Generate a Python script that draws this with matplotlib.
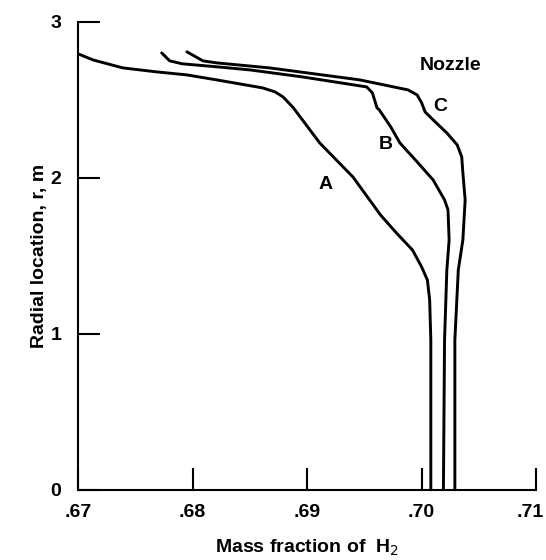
import numpy as np
import matplotlib
matplotlib.use('Agg')
from matplotlib import pyplot as plt
from matplotlib.transforms import ScaledTranslation

# curve A / B / C : mass fraction of H2 vs radial location
a_x = [0.6700, 0.6713, 0.6739, 0.6769, 0.6795, 0.6821, 0.6861, 0.6872, 0.6879,
       0.6888, 0.6911, 0.6940, 0.6964, 0.6978, 0.6992, 0.7000, 0.7005, 0.7007,
       0.7008, 0.7008]
a_r = [2.795, 2.756, 2.705, 2.679, 2.660, 2.628, 2.577, 2.551, 2.519,
       2.449, 2.224, 2.006, 1.763, 1.647, 1.538, 1.429, 1.346, 1.218,
       0.962, 0.0]

b_x = [0.6773, 0.6780, 0.6791, 0.6821, 0.6850, 0.6896, 0.6952, 0.6957, 0.6961,
       0.6963, 0.6973, 0.6981, 0.6996, 0.7010, 0.7020, 0.7023, 0.7024, 0.7022,
       0.7020, 0.7019]
b_r = [2.801, 2.750, 2.731, 2.712, 2.692, 2.647, 2.583, 2.545, 2.449,
       2.436, 2.327, 2.224, 2.103, 1.987, 1.859, 1.795, 1.603, 1.410,
       0.962, 0.0]

c_x = [0.6795, 0.6809, 0.6821, 0.6867, 0.6946, 0.6988, 0.6996, 0.7000, 0.7003,
       0.7010, 0.7022, 0.7031, 0.7035, 0.7036, 0.7038, 0.7036, 0.7032, 0.7029,
       0.7029]
c_r = [2.808, 2.750, 2.737, 2.705, 2.628, 2.564, 2.532, 2.481, 2.423,
       2.372, 2.288, 2.212, 2.135, 2.032, 1.859, 1.603, 1.410, 0.962,
       0.0]

xticks = [0.67, 0.68, 0.69, 0.70, 0.71]
xlabels = ['.67', '.68', '.69', '.70', '.71']
yticks = [0, 1, 2, 3]

plt.rcParams['font.family'] = ['Liberation Sans', 'DejaVu Sans']

fig = plt.figure(figsize=(5.46, 5.6), dpi=100)
ax = fig.add_axes([0.143, 0.125, 0.839, 0.836])

for xs, rs in [(a_x, a_r), (b_x, b_r), (c_x, c_r)]:
    ax.plot(xs, rs, color='black', lw=2.1, solid_joinstyle='round', solid_capstyle='round')

ax.set_xlim(0.67, 0.71)
ax.set_ylim(0, 3)
ax.spines['top'].set_visible(False)
ax.spines['right'].set_visible(False)
ax.spines['left'].set_linewidth(1.5)
ax.spines['bottom'].set_linewidth(1.5)
ax.set_xticks(xticks)
ax.set_xticklabels(xlabels)
ax.set_yticks(yticks)
ax.tick_params(direction='in', length=16, width=1.5, labelsize=14)
ax.tick_params(axis='x', pad=10)
ax.tick_params(axis='y', pad=12)
for lab in ax.get_xticklabels() + ax.get_yticklabels():
    lab.set_fontweight('bold')
# last x label sits a bit left, as in the original
last = ax.get_xticklabels()[-1]
last.set_transform(last.get_transform() + ScaledTranslation(-6/100, 0, fig.dpi_scale_trans))

ax.set_xlabel('Mass fraction of  H$_2$', fontsize=14, fontweight='bold', labelpad=12)
ax.set_ylabel('Radial location, r, m', fontsize=14, fontweight='bold', labelpad=2)

ax.text(0.7025, 2.72, 'Nozzle', fontsize=14, fontweight='bold', ha='center', va='center')
ax.text(0.7016, 2.455, 'C', fontsize=14, fontweight='bold', ha='center', va='center')
ax.text(0.6969, 2.212, 'B', fontsize=14, fontweight='bold', ha='center', va='center')
ax.text(0.6916, 1.955, 'A', fontsize=14, fontweight='bold', ha='center', va='center')

fig.savefig('out.png', dpi=100)
